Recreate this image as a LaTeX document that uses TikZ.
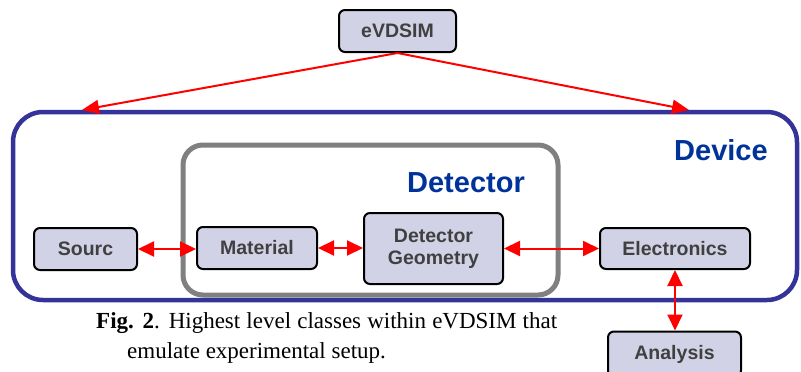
\documentclass[tikz,border=0pt]{standalone}
\usepackage{fontspec}
\setmainfont{Liberation Serif}
\setsansfont{Liberation Sans}
\usetikzlibrary{arrows.meta}
\definecolor{boxfill}{RGB}{210,210,230}
\definecolor{boxtext}{RGB}{64,64,64}
\definecolor{devline}{RGB}{51,51,153}
\definecolor{devtext}{RGB}{0,51,153}
\definecolor{detline}{RGB}{128,128,128}
\tikzset{
  classbox/.style={draw=black, line width=2pt, rounded corners=6pt, fill=boxfill,
    text=boxtext, font=\sffamily\bfseries\fontsize{19.5}{22}\selectfont,
    inner sep=0pt, align=center},
  link/.style={draw=red, line width=2pt, {Triangle[length=16pt,width=15pt]}-{Triangle[length=16pt,width=15pt]}},
  onelink/.style={draw=red, line width=2pt, -{Triangle[length=17pt,width=14pt]}},
  grouptitle/.style={text=devtext, font=\sffamily\bfseries\fontsize{29}{32}\selectfont, anchor=base, inner sep=0pt}
}
\begin{document}
\begin{tikzpicture}[x=1pt,y=-1pt]
\useasboundingbox (0,0) rectangle (801,372);
% group frames
\draw[devline, line width=4.5pt, rounded corners=30pt] (13,112) rectangle (797,300);
\draw[detline, line width=5pt, rounded corners=20pt] (183,145) rectangle (558,295);
\node[grouptitle] (devlabel) at (721,160) {Device};
\node[grouptitle] (detlabel) at (466,192) {Detector};
% classes
\node[classbox, minimum width=117pt, minimum height=42pt] (evd) at (397.5,31) {eVDSIM};
\node[classbox, minimum width=103pt, minimum height=42pt] (src) at (85.5,249) {Sourc};
\node[classbox, minimum width=120pt, minimum height=42pt] (mat) at (257,248) {Material};
\node[classbox, minimum width=139pt, minimum height=71pt] (geo) at (433.5,248.5) {Detector\\Geometry};
\node[classbox, minimum width=150pt, minimum height=41pt] (ele) at (675,248.5) {Electronics};
\node[classbox, minimum width=133pt, minimum height=45pt] (ana) at (674.5,354) {Analysis};
% connectors
\coordinate (devL) at (82,110);
\coordinate (devR) at (689,110);
\draw[onelink] (evd.south) -- (devL);
\draw[onelink] (evd.south) -- (devR);
\draw[link] (src.east) -- (src.east -| mat.west);
\draw[link] (mat.east) -- (mat.east -| geo.west);
\draw[link] (geo.east |- ele.west) -- (ele.west);
\draw[link] (ele.south) -- (ele.south |- ana.north);
% caption
\node[anchor=base west, inner sep=0pt, font=\fontsize{23}{26}\selectfont] (cap1) at (96,328)
  {\makebox[461pt][s]{\textbf{Fig. 2}. Highest level classes within eVDSIM that}};
\node[anchor=base west, inner sep=0pt, font=\fontsize{23}{26}\selectfont] (cap2) at (127,358)
  {emulate experimental setup.};
\end{tikzpicture}
\end{document}
